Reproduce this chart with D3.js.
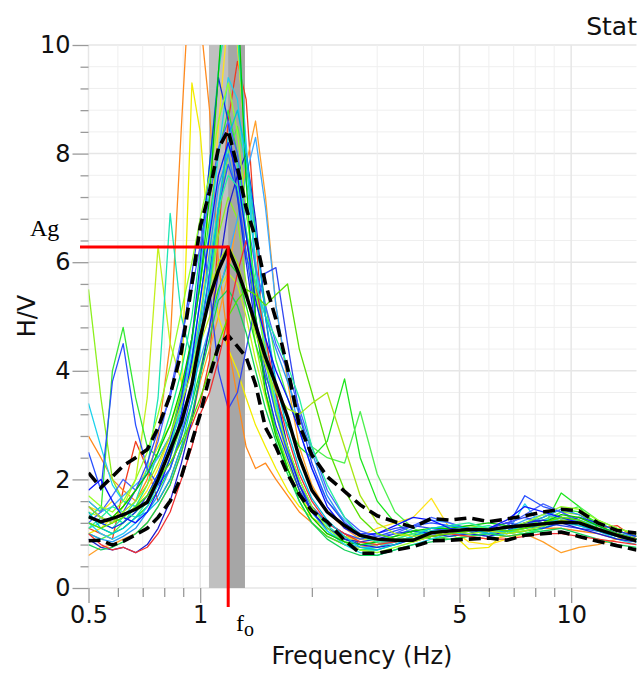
<!DOCTYPE html>
<html>
<head>
<meta charset="utf-8">
<script src="https://cdn.jsdelivr.net/npm/d3@7"></script>
<style>
  body { margin: 0; background: #fff; }
  svg { display: block; }
</style>
</head>
<body>
<svg id="hvsr" width="640" height="674"></svg>
<script>
// frequency grid (Hz) shared by all curves
const freqs = [0.5, 0.54, 0.58, 0.62, 0.67, 0.72, 0.77, 0.83, 0.89, 0.95,
               1.0, 1.06, 1.12, 1.19, 1.26, 1.33, 1.41, 1.5, 1.6, 1.72,
               1.85, 2.0, 2.2, 2.45, 2.7, 3.0, 3.35, 3.75, 4.2, 4.7,
               5.3, 6.0, 6.7, 7.5, 8.4, 9.4, 10.5, 11.8, 13.3, 15.0];

// average H/V and the +/- std curves
const meanHV  = [1.31, 1.22, 1.28, 1.35, 1.45, 1.58, 2.0, 2.55, 3.05, 3.75,
                 4.6, 5.35, 5.85, 6.26, 5.85, 5.4, 4.85, 4.25, 3.75, 3.15,
                 2.4, 1.8, 1.4, 1.15, 0.97, 0.9, 0.88, 0.88, 1.02, 1.05,
                 1.08, 1.07, 1.12, 1.15, 1.18, 1.21, 1.2, 1.08, 0.97, 0.87];
const upperHV = [2.12, 1.85, 2.05, 2.25, 2.4, 2.55, 2.95, 3.55, 4.35, 5.6,
                 6.65, 7.3, 8.1, 8.43, 7.75, 7.0, 6.45, 5.6, 4.95, 4.05,
                 3.0, 2.45, 2.05, 1.78, 1.53, 1.33, 1.22, 1.12, 1.28, 1.25,
                 1.29, 1.22, 1.27, 1.33, 1.4, 1.45, 1.42, 1.2, 1.06, 1.01];
const lowerHV = [0.87, 0.88, 0.79, 0.86, 0.98, 1.1, 1.3, 1.6, 2.05, 2.7,
                 3.2, 3.9, 4.45, 4.65, 4.45, 4.25, 3.75, 2.95, 2.6, 2.1,
                 1.72, 1.42, 1.22, 0.88, 0.64, 0.64, 0.7, 0.76, 0.87, 0.88,
                 0.9, 0.92, 0.88, 0.97, 1.0, 1.03, 0.95, 0.86, 0.78, 0.7];

// individual windows
const w01 = [1.1,1.0,0.9,1.8,2.7,2.2,1.6,2.0,2.6,3.0, 3.4,4.2,6.5,8.6,9.7,9.0,6.5,4.2,3.3,2.6, 2.0,1.5,1.2,1.0,0.8,0.8,0.9,0.85,0.95,1.0, 1.1,1.0,1.05,1.1,1.15,1.3,1.2,1.1,1.15,0.9];
const w02 = [2.8,2.4,2.0,1.8,1.6,2.0,2.8,4.5,8.5,12.0, 10.5,8.8,6.0,4.5,3.5,2.6,2.2,2.3,2.0,1.7, 1.4,1.2,0.95,0.8,0.75,0.8,0.85,0.9,0.95,1.0, 1.05,1.0,0.95,1.0,1.1,1.1,1.05,1.0,0.9,0.85];
const w03 = [0.6,0.75,0.8,0.9,1.0,1.2,1.5,1.9,2.5,3.1, 3.8,4.4,5.0,5.8,6.8,7.8,8.6,7.2,5.2,3.8, 2.6,1.9,1.4,1.1,0.9,0.85,0.85,0.9,0.95,1.0, 0.95,0.9,0.95,1.0,0.85,0.65,0.75,0.8,0.9,0.95];
const w04 = [1.0,1.1,1.3,1.5,1.8,2.2,2.6,3.0,3.6,9.3, 8.4,6.2,5.0,4.4,4.0,3.5,3.0,2.6,2.2,1.8, 1.5,1.3,1.1,0.95,0.85,0.8,0.85,0.9,1.0,1.05, 0.72,0.75,1.05,1.1,1.2,1.3,1.2,1.1,1.0,0.95];
const w05 = [1.5,1.4,1.6,1.3,1.5,1.8,2.2,2.8,3.5,4.2, 5.0,6.5,8.5,10.6,10.0,8.0,6.0,4.5,3.2,2.4, 1.8,1.3,1.0,0.9,0.95,1.1,1.2,1.3,1.65,1.1, 0.85,0.8,0.9,1.0,1.1,1.25,1.3,1.2,1.05,0.95];
const w06 = [1.4,1.3,1.2,1.5,2.0,3.5,6.3,4.5,3.8,4.0, 4.5,5.0,5.5,5.8,5.6,5.0,4.2,3.5,2.8,2.2, 1.7,1.3,1.1,0.95,0.9,0.9,0.95,1.0,1.1,1.15, 1.1,1.05,1.1,1.15,1.2,1.3,1.3,1.15,1.0,0.9];
const w07 = [5.5,3.5,2.0,1.6,1.5,1.6,1.9,2.4,3.0,3.8, 4.5,5.5,6.5,7.2,6.8,5.6,4.5,3.6,2.9,2.3, 1.8,1.4,1.1,0.9,0.8,0.8,0.9,1.0,1.05,1.1, 1.15,1.1,1.0,1.1,1.2,1.4,1.35,1.2,1.05,0.95];
const w08 = [1.6,1.4,4.0,4.8,3.5,2.6,2.4,2.8,3.6,4.6, 5.6,6.8,8.0,8.8,8.0,6.5,5.0,3.8,2.9,2.2, 1.6,1.2,0.95,0.8,0.7,0.75,0.85,0.95,1.05,1.1, 1.05,1.0,1.1,1.2,1.3,1.45,1.4,1.2,1.05,0.95];
const w09 = [1.2,1.1,1.0,1.1,1.3,1.5,1.8,2.2,2.8,3.4, 4.0,4.8,5.5,6.0,5.8,5.2,4.5,3.9,3.4,3.0, 2.6,2.4,2.7,3.85,2.4,1.6,1.2,1.0,0.9,0.95, 1.0,1.05,1.0,1.05,1.1,1.75,1.5,1.1,1.0,0.9];
const w10 = [1.0,0.9,1.0,1.2,1.4,1.6,1.9,2.4,3.0,3.7, 4.5,5.5,6.8,8.0,8.5,7.8,6.5,5.2,4.2,3.5, 3.0,2.6,2.4,2.3,3.25,2.1,1.4,1.1,0.95,0.9, 0.95,1.0,1.05,1.15,1.25,1.4,1.5,1.25,1.1,1.0];
const w11 = [1.3,1.5,1.3,1.2,1.5,1.9,2.5,3.2,4.0,5.0, 6.2,7.8,9.5,10.8,10.2,8.0,5.8,4.2,3.2,2.5, 1.9,1.4,1.1,0.85,0.7,0.7,0.8,0.9,1.0,1.05, 1.1,1.15,1.05,1.0,1.1,1.25,1.2,1.1,0.95,0.85];
const w12 = [1.1,1.2,1.1,1.3,1.6,2.2,3.5,6.9,5.0,4.2, 4.8,5.8,7.0,8.2,7.8,6.6,5.4,4.3,3.4,2.6, 2.0,1.5,1.15,0.9,0.8,0.8,0.85,0.95,1.0,1.1, 1.05,1.0,1.05,1.1,1.15,1.25,1.25,1.1,0.95,0.85];
const w13 = [3.4,2.6,1.9,1.6,1.5,1.7,2.1,2.7,3.4,4.3, 5.3,6.6,8.0,9.4,9.0,7.6,6.0,4.6,3.5,2.6, 1.9,1.4,1.05,0.8,0.65,0.6,0.7,0.8,0.9,1.0, 1.0,0.95,1.0,1.55,1.1,1.2,1.15,1.05,0.9,0.8];
const w14 = [1.2,1.0,0.9,1.0,1.2,1.5,1.9,2.6,3.4,4.5, 5.8,7.5,9.5,11.5,10.5,8.2,6.0,4.4,3.3,2.5, 1.9,1.4,1.05,0.85,0.75,0.75,0.85,0.95,1.05,1.1, 1.05,1.0,1.1,1.2,1.25,1.3,1.25,1.15,1.0,0.9];
const w15 = [1.6,1.4,1.5,1.7,1.9,2.1,2.4,2.8,3.2,3.7, 4.2,4.8,5.4,6.1,6.8,7.6,8.3,7.0,5.2,3.9, 2.9,2.2,1.6,1.25,1.0,0.9,0.95,1.1,1.25,1.2, 1.05,1.0,1.1,1.25,1.35,1.3,1.2,1.1,1.0,0.95];
const w16 = [1.0,0.9,0.85,0.95,1.1,1.4,1.7,2.2,2.9,3.8, 4.9,6.2,7.4,8.0,7.2,6.1,5.6,5.0,4.4,3.8, 3.2,2.5,1.7,1.2,0.95,0.85,0.85,0.9,0.95,1.0, 1.05,1.1,1.1,1.15,1.3,1.45,1.35,1.15,1.0,0.9];
const w17 = [2.5,1.8,3.8,4.5,3.0,2.2,1.9,2.2,2.8,3.6, 4.6,5.8,7.0,7.8,7.3,6.2,5.0,4.0,3.2,2.5, 1.9,1.5,1.2,1.0,0.9,0.95,1.05,1.15,1.2,1.15, 1.1,1.05,1.1,1.7,1.5,1.4,1.25,1.1,1.0,0.9];
const w18 = [1.3,1.2,1.1,1.2,1.4,1.7,2.1,2.7,3.5,4.6, 6.0,7.8,9.4,8.6,7.2,6.0,4.8,3.8,3.0,2.4, 1.8,1.4,1.1,0.9,0.85,0.9,1.0,1.05,1.0,0.95, 1.0,1.1,1.2,1.15,1.1,1.2,1.3,1.2,1.05,0.95];
const w19 = [1.5,1.3,1.2,1.4,1.8,2.3,2.9,3.5,4.5,5.8, 6.8,5.5,4.0,3.3,3.6,4.4,5.2,5.8,5.9,4.5, 3.2,2.3,1.6,1.2,1.0,1.0,1.1,1.15,1.1,1.05, 1.05,1.1,1.2,1.3,1.2,1.15,1.1,1.05,0.95,0.9];
const w20 = [0.9,0.75,0.7,0.75,0.65,0.8,1.1,1.6,2.3,3.1, 3.9,4.8,5.8,7.0,7.6,8.0,6.8,5.0,3.6,2.6, 1.9,1.4,1.1,0.9,0.8,0.75,0.8,0.9,1.0,1.05, 1.0,0.95,1.05,1.2,1.25,1.2,1.1,1.0,0.9,0.85];
const w21 = [1.2,1.4,1.7,2.0,1.8,2.1,2.7,3.6,4.6,5.5, 6.3,7.2,8.1,8.6,8.0,6.9,5.9,5.2,4.5,4.0, 3.3,2.6,1.8,1.3,1.05,0.95,1.0,1.15,1.3,1.2, 1.1,1.05,1.15,1.35,1.55,1.4,1.2,1.05,0.95,0.9];
const w22 = [0.8,0.7,0.75,0.85,1.0,1.2,1.5,1.9,2.5,3.2, 3.9,4.6,5.3,5.5,5.2,4.7,4.0,3.3,2.7,2.1, 1.6,1.2,0.9,0.7,0.6,0.6,0.7,0.8,0.85,0.9, 0.95,1.0,0.95,1.0,1.05,1.1,1.0,0.9,0.8,0.75];
const w23 = [1.7,1.5,1.4,1.6,2.0,2.5,3.2,4.1,5.1,6.0, 6.8,7.6,8.6,9.3,8.4,7.0,5.5,4.3,3.3,2.6, 2.0,1.5,1.1,0.85,0.7,0.65,0.75,0.85,0.95,1.05, 1.0,1.05,1.1,1.2,1.35,1.5,1.45,1.25,1.1,1.0];
const w24 = [1.0,0.8,0.7,0.75,0.65,0.75,1.0,1.4,2.0,2.6, 3.2,3.6,4.2,5.0,5.8,6.4,5.6,4.6,3.6,2.8, 2.1,1.6,1.2,1.0,0.85,0.8,0.85,0.9,0.95,1.0, 0.95,0.9,0.9,0.95,1.0,1.0,0.95,0.9,0.85,0.8];
const w25 = [1.3,1.2,1.3,1.5,1.8,2.1,2.5,3.0,3.7,4.6, 5.6,7.2,9.5,12.0,11.0,7.5,5.0,3.6,2.8,2.2, 1.7,1.3,1.0,0.85,0.8,0.85,0.95,1.05,1.1,1.1, 1.15,1.2,1.15,1.1,1.2,1.35,1.3,1.15,1.0,0.9];
const w26 = [1.1,1.3,1.5,1.4,1.3,1.6,2.0,2.6,3.3,4.1, 5.0,6.0,7.0,7.6,7.4,6.6,5.6,5.0,4.6,4.1, 3.5,2.6,1.9,1.3,0.95,0.85,0.9,1.0,1.1,1.15, 1.2,1.1,1.0,1.05,1.15,1.3,1.25,1.1,1.0,0.9];
const w27 = [1.4,1.1,1.0,1.1,1.3,1.4,1.6,2.0,2.6,3.4, 4.4,5.6,7.0,8.3,8.8,8.0,6.6,5.0,3.8,2.9, 2.2,1.65,1.25,0.95,0.75,0.7,0.8,0.95,1.1,1.15, 1.1,1.0,1.05,1.15,1.2,1.25,1.15,1.05,0.95,0.85];
const w28 = [1.8,2.0,1.6,1.3,1.2,1.4,1.8,2.4,3.2,4.2, 5.3,6.5,7.6,8.2,7.6,6.5,5.3,4.6,4.0,3.5, 2.9,2.2,1.5,1.1,0.95,1.0,1.15,1.3,1.25,1.1, 1.05,1.1,1.25,1.5,1.4,1.3,1.2,1.1,1.0,0.9];
const w29 = [1.2,1.1,1.2,1.3,1.5,1.7,2.0,2.3,2.7,3.1, 3.5,4.0,4.5,5.0,5.3,5.5,5.4,5.2,5.4,5.6, 4.4,3.6,2.6,1.8,1.3,1.0,0.9,0.9,0.95,1.0, 1.05,1.1,1.05,1.1,1.2,1.3,1.25,1.1,1.0,0.9];
const w30 = [1.5,1.3,1.2,1.4,1.6,1.9,2.3,2.8,3.4,4.0, 4.7,5.4,6.0,6.3,6.0,5.4,4.7,4.1,3.6,3.3, 3.2,3.4,3.6,2.6,1.7,1.2,1.0,0.95,1.0,1.05, 1.1,1.05,1.0,1.05,1.15,1.25,1.2,1.1,0.95,0.9];

const windowCurves = [w01, w02, w03, w04, w05, w06, w07, w08, w09, w10,
                      w11, w12, w13, w14, w15, w16, w17, w18, w19, w20,
                      w21, w22, w23, w24, w25, w26, w27, w28, w29, w30];
const windowColors = ["#f03c1e", "#ff8a1e", "#ff9f2a", "#f2ec00", "#ffe31a", "#c4f01e", "#8cf01e", "#34e834", "#1ee61e", "#4ef04e",
                      "#14f08c", "#1ee6b4", "#1ed2ec", "#28c8f4", "#3caaff", "#2896f0", "#2850ff", "#1432e6", "#3246f0", "#1e1ed2",
                      "#4664ff", "#14d25a", "#96ff28", "#f03232", "#00c800", "#28f0a0", "#00bedc", "#0a14ff", "#5ae000", "#a8e614"];

// peak
const f0 = 1.19;
const ag = 6.28;
const f0Band = [1.056, 1.19, 1.32];

// ticks
const xTickMajor = [0.5, 1, 5, 10];
const xTickMinor = [0.6, 0.7, 0.8, 0.9, 2, 3, 4, 6, 7, 8, 9];
const yTickMajor = [0, 2, 4, 6, 8, 10];
const yTickMinor = [0.4, 0.8, 1.2, 1.6, 2.4, 2.8, 3.2, 3.6, 4.4, 4.8, 5.2, 5.6,
                    6.4, 6.8, 7.2, 7.6, 8.4, 8.8, 9.2, 9.6];

const svg = d3.select("#hvsr");
const plotLeft = 88.5, plotRight = 636.5, plotTop = 45, plotBottom = 588;

const x = d3.scaleLog().domain([0.5, 15]).range([plotLeft, plotRight]);
const y = d3.scaleLinear().domain([0, 10]).range([plotBottom, plotTop]);

svg.append("rect").attr("width", 640).attr("height", 674).attr("fill", "#fff");

svg.append("defs").append("clipPath").attr("id", "plotClip")
    .append("rect")
    .attr("x", plotLeft).attr("y", plotTop)
    .attr("width", plotRight - plotLeft).attr("height", plotBottom - plotTop);

// grid
const grid = svg.append("g").attr("class", "grid");
grid.selectAll(".hmin")
    .data(yTickMinor)
    .join("line")
    .attr("class", "hmin")
    .attr("x1", plotLeft).attr("x2", plotRight)
    .attr("y1", d => y(d)).attr("y2", d => y(d))
    .attr("stroke", "#efefef");
grid.selectAll(".hmaj")
    .data(yTickMajor)
    .join("line")
    .attr("class", "hmaj")
    .attr("x1", plotLeft).attr("x2", plotRight)
    .attr("y1", d => y(d)).attr("y2", d => y(d))
    .attr("stroke", "#e6e6e6").attr("stroke-width", 1.5);
grid.selectAll(".v")
    .data(xTickMinor.concat(xTickMajor))
    .join("line")
    .attr("class", "v")
    .attr("x1", d => x(d)).attr("x2", d => x(d))
    .attr("y1", plotTop).attr("y2", plotBottom)
    .attr("stroke", d => xTickMajor.includes(d) ? "#e6e6e6" : "#efefef")
    .attr("stroke-width", d => xTickMajor.includes(d) ? 1.5 : 1);

// f0 band
svg.append("rect")
    .attr("x", x(f0Band[0])).attr("y", plotTop)
    .attr("width", x(f0Band[2]) - x(f0Band[0])).attr("height", plotBottom - plotTop)
    .attr("fill", "#c0c0c0");
svg.append("rect")
    .attr("x", x(f0Band[1])).attr("y", plotTop)
    .attr("width", x(f0Band[2]) - x(f0Band[1])).attr("height", plotBottom - plotTop)
    .attr("fill", "#a6a6a6");

const plot = svg.append("g").attr("clip-path", "url(#plotClip)");

const line = d3.line()
    .x((d, i) => x(freqs[i]))
    .y(d => y(d));

plot.selectAll(".win")
    .data(windowCurves)
    .join("path")
    .attr("class", "win")
    .attr("d", line)
    .attr("fill", "none")
    .attr("stroke", (d, i) => windowColors[i])
    .attr("stroke-width", 1.3)
    .attr("stroke-linejoin", "round");

[upperHV, lowerHV].forEach(c => {
    plot.append("path")
        .attr("d", line(c))
        .attr("fill", "none")
        .attr("stroke", "#000")
        .attr("stroke-width", 3.6)
        .attr("stroke-dasharray", "12,6");
});
plot.append("path")
    .attr("d", line(meanHV))
    .attr("fill", "none")
    .attr("stroke", "#000")
    .attr("stroke-width", 3.4)
    .attr("stroke-linejoin", "round");

// axes
const axisFont = "'DejaVu Sans', Verdana, sans-serif";

svg.append("g")
    .attr("transform", `translate(${plotLeft},0)`)
    .call(d3.axisLeft(y).tickValues(yTickMajor).tickSize(16).tickPadding(2).tickFormat(d => d));
svg.append("g")
    .attr("transform", `translate(${plotLeft},0)`)
    .call(d3.axisLeft(y).tickValues(yTickMinor).tickSize(8).tickFormat(""));

svg.append("g")
    .attr("transform", `translate(0,${plotBottom})`)
    .call(d3.axisBottom(x).tickValues(xTickMajor).tickSize(15).tickPadding(3).tickFormat(d => d));
svg.append("g")
    .attr("transform", `translate(0,${plotBottom})`)
    .call(d3.axisBottom(x).tickValues(xTickMinor).tickSize(9).tickFormat(""));

svg.selectAll(".domain").remove();
svg.selectAll(".tick line").attr("stroke", "#9a9a9a").attr("stroke-width", 1.3);
svg.selectAll(".tick text")
    .attr("font-family", axisFont)
    .attr("font-size", 24)
    .attr("fill", "#111");

svg.append("text")
    .attr("x", 362).attr("y", 664)
    .attr("text-anchor", "middle")
    .attr("font-family", axisFont).attr("font-size", 24).attr("fill", "#111")
    .text("Frequency (Hz)");

svg.append("text")
    .attr("transform", "translate(35,316) rotate(-90)")
    .attr("text-anchor", "middle")
    .attr("font-family", axisFont).attr("font-size", 24).attr("fill", "#111")
    .text("H/V");

svg.append("text")
    .attr("x", 637).attr("y", 35)
    .attr("text-anchor", "end")
    .attr("font-family", axisFont).attr("font-size", 25).attr("fill", "#111")
    .text("Stat");

// peak markers
svg.append("line")
    .attr("x1", 80).attr("x2", x(f0))
    .attr("y1", y(ag)).attr("y2", y(ag))
    .attr("stroke", "#ff0000").attr("stroke-width", 3);
svg.append("line")
    .attr("x1", x(f0)).attr("x2", x(f0))
    .attr("y1", y(ag) - 1.5).attr("y2", 607)
    .attr("stroke", "#ff0000").attr("stroke-width", 3);

const serif = "'Liberation Serif', 'Times New Roman', serif";
svg.append("text")
    .attr("x", 30).attr("y", 236)
    .attr("font-family", serif).attr("font-size", 24).attr("fill", "#000")
    .text("Ag");
const fo = svg.append("text")
    .attr("x", 236).attr("y", 631)
    .attr("font-family", serif).attr("font-size", 24).attr("fill", "#000");
fo.append("tspan").text("f");
fo.append("tspan").attr("dy", 5).attr("font-size", 20).text("o");
</script>
</body>
</html>
